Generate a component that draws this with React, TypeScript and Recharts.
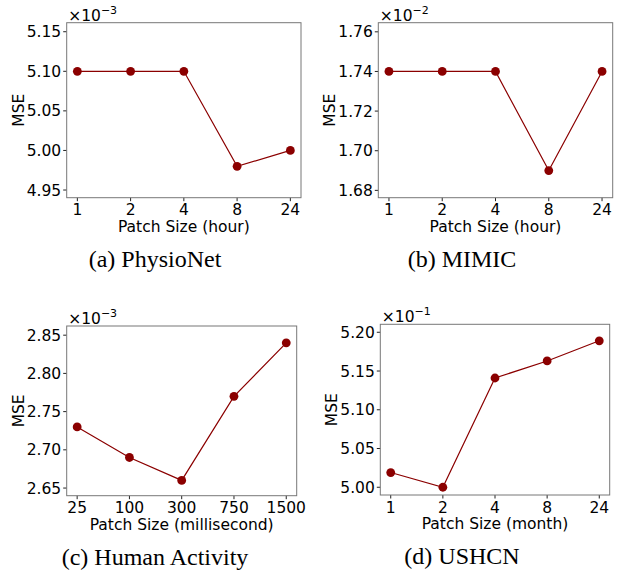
import { LineChart, Line, XAxis, YAxis, Label } from 'recharts';

// patch size categories / MSE values (scaled by the offset exponent)
const physioCats = ['1', '2', '4', '8', '24'];
const physioMse = [5.1, 5.1, 5.1, 4.98, 5.0];
const physioTicks = [4.95, 5.0, 5.05, 5.1, 5.15];

const mimicCats = ['1', '2', '4', '8', '24'];
const mimicMse = [1.74, 1.74, 1.74, 1.69, 1.74];
const mimicTicks = [1.68, 1.7, 1.72, 1.74, 1.76];

const humanCats = ['25', '100', '300', '750', '1500'];
const humanMse = [2.73, 2.69, 2.66, 2.77, 2.84];
const humanTicks = [2.65, 2.7, 2.75, 2.8, 2.85];

const ushcnCats = ['1', '2', '4', '8', '24'];
const ushcnMse = [5.019, 5.0, 5.141, 5.163, 5.189];
const ushcnTicks = [5.0, 5.05, 5.1, 5.15, 5.2];

const RED = '#8b0000';
const SPINE = '#777';
const FONT = 'DejaVu Sans';

type Box = { l: number; t: number; r: number; b: number };
type PanelProps = {
  cats: string[];
  values: number[];
  ticks: number[];
  domain: [number, number];
  exp: number;
  xLabel: string;
  caption: string;
  cx: number;
  cy: number;
  box: Box;
};

const W = 310;
const H = 245;
const yW = 55;
const xH = 34;

function Panel(p: PanelProps) {
  const data = p.cats.map((c, i) => ({ cat: c, mse: p.values[i] }));
  const margin = {
    left: p.box.l - p.cx - yW,
    top: p.box.t - p.cy,
    right: p.cx + W - p.box.r,
    bottom: p.cy + H - p.box.b - xH,
  };
  const pad = (p.box.r - p.box.l) / 22;
  const plotL = p.box.l - p.cx;
  const plotT = p.box.t - p.cy;
  const plotW = p.box.r - p.box.l;
  const plotH = p.box.b - p.box.t;
  const plotMid = plotT + plotH / 2;
  const mseX = plotL - 48;

  return (
    <div style={{ position: 'absolute', left: p.cx, top: p.cy, width: W, height: 290 }}>
      <LineChart width={W} height={H} data={data} margin={margin}>
        <XAxis
          dataKey="cat"
          type="category"
          height={xH}
          interval={0}
          padding={{ left: pad, right: pad }}
          axisLine={false}
          tickLine={{ stroke: '#222' }}
          tickSize={3.5}
          tickMargin={3}
          tick={{ fill: '#000', fontSize: 15.5, fontFamily: FONT }}
        >
          <Label
            value={p.xLabel}
            position="insideBottom"
            offset={0}
            style={{ fill: '#000', fontSize: 15.5, fontFamily: FONT }}
          />
        </XAxis>
        <YAxis
          type="number"
          domain={p.domain}
          ticks={p.ticks}
          allowDataOverflow
          interval={0}
          width={yW}
          tickFormatter={(v: number) => v.toFixed(2)}
          axisLine={false}
          tickLine={{ stroke: '#222' }}
          tickSize={3.5}
          tickMargin={2}
          tick={{ fill: '#000', fontSize: 15.5, fontFamily: FONT }}
        >
          <Label
            content={() => (
              <g>
                <rect x={plotL} y={plotT} width={plotW} height={plotH} fill="none" stroke={SPINE} strokeWidth={1} />
                <text
                  x={mseX}
                  y={plotMid}
                  transform={`rotate(-90 ${mseX} ${plotMid})`}
                  textAnchor="middle"
                  dominantBaseline="central"
                  fontSize={15.5}
                  fontFamily={FONT}
                  fill="#000"
                >
                  MSE
                </text>
                <text x={plotL + 1.5} y={plotT - 2} fontSize={15.5} fontFamily={FONT} fill="#000">
                  ×10
                  <tspan dy={-7} fontSize={11}>
                    {'−' + p.exp}
                  </tspan>
                </text>
              </g>
            )}
          />
        </YAxis>
        <Line
          dataKey="mse"
          stroke={RED}
          strokeWidth={1.2}
          dot={{ r: 4.4, fill: RED, stroke: RED, strokeWidth: 0 }}
          activeDot={false}
          isAnimationActive={false}
        />
      </LineChart>
      <div
        style={{
          position: 'absolute',
          left: 0,
          width: W,
          top: p.box.b - p.cy + 49,
          textAlign: 'center',
          fontFamily: '"Liberation Serif", "Times New Roman", serif',
          fontSize: 24,
          lineHeight: '24px',
          color: '#000',
          whiteSpace: 'pre',
        }}
      >
        {p.caption}
      </div>
    </div>
  );
}

export default function App() {
  return (
    <div style={{ position: 'absolute', left: 0, top: 0, width: 617, height: 576, background: '#fff' }}>
      <Panel
        cats={physioCats}
        values={physioMse}
        ticks={physioTicks}
        domain={[4.9403, 5.1614]}
        exp={3}
        xLabel="Patch Size (hour)"
        caption="(a) PhysioNet"
        cx={0}
        cy={0}
        box={{ l: 66.7, t: 22.7, r: 301, b: 197.7 }}
      />
      <Panel
        cats={mimicCats}
        values={mimicMse}
        ticks={mimicTicks}
        domain={[1.6763, 1.7646]}
        exp={2}
        xLabel="Patch Size (hour)"
        caption="(b) MIMIC"
        cx={307}
        cy={0}
        box={{ l: 378.3, t: 22.7, r: 612.7, b: 197.7 }}
      />
      <Panel
        cats={humanCats}
        values={humanMse}
        ticks={humanTicks}
        domain={[2.64, 2.862]}
        exp={3}
        xLabel="Patch Size (millisecond)"
        caption="(c) Human Activity"
        cx={0}
        cy={290}
        box={{ l: 66.7, t: 326, r: 296.7, b: 495.7 }}
      />
      <Panel
        cats={ushcnCats}
        values={ushcnMse}
        ticks={ushcnTicks}
        domain={[4.99, 5.2103]}
        exp={1}
        xLabel="Patch Size (month)"
        caption="(d) USHCN"
        cx={307}
        cy={290}
        box={{ l: 380.3, t: 324.3, r: 609.7, b: 495 }}
      />
    </div>
  );
}
